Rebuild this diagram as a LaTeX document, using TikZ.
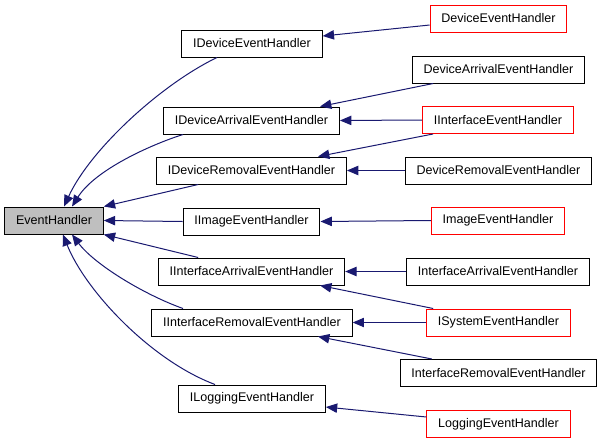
\documentclass[tikz,border=0pt]{standalone}
\usepackage{fontspec}
\setmainfont{Liberation Sans}
\usetikzlibrary{arrows.meta}

\definecolor{edgeblue}{HTML}{191970}
\definecolor{rootgray}{HTML}{BFBFBF}

\begin{document}
\begin{tikzpicture}[
  x=0.75pt, y=-0.75pt,
  cls/.style={draw, line width=0.75pt, inner xsep=8.5pt, inner ysep=0pt, minimum height=20.25pt, font=\fontsize{9.4}{11}\selectfont},
  root/.style={cls, fill=rootgray},
  ext/.style={cls, draw=red},
  inh/.style={-{Triangle[length=8.5pt,width=7pt]}, draw=edgeblue, line width=0.75pt}
]
\useasboundingbox (0,0) rectangle (603,443);

% base class
\node[root] (eh) at (54,220.5) {EventHandler};

% interfaces
\node[cls] (ide)  at (252,43.5)  {IDeviceEventHandler};
\node[cls] (ida)  at (251.5,120.5) {IDeviceArrivalEventHandler};
\node[cls] (idr)  at (251.5,170.5) {IDeviceRemovalEventHandler};
\node[cls] (iim)  at (251.5,221.5) {IImageEventHandler};
\node[cls] (iia)  at (251.5,271.5) {IInterfaceArrivalEventHandler};
\node[cls] (iir)  at (252,322.5) {IInterfaceRemovalEventHandler};
\node[cls] (ilog) at (252,398.5) {ILoggingEventHandler};

% derived classes
\node[ext] (de)   at (498.5,18.5)  {DeviceEventHandler};
\node[cls] (da)   at (498.5,69.5)  {DeviceArrivalEventHandler};
\node[ext] (iif)  at (498,120)     {IInterfaceEventHandler};
\node[cls] (dr)   at (498.5,170.5) {DeviceRemovalEventHandler};
\node[ext] (im)   at (498,220.5)   {ImageEventHandler};
\node[cls] (ia)   at (498,271.5)   {InterfaceArrivalEventHandler};
\node[ext] (isys) at (498.5,322.5) {ISystemEventHandler};
\node[cls] (ir)   at (498.5,373)   {InterfaceRemovalEventHandler};
\node[ext] (log)  at (498.5,424)   {LoggingEventHandler};

% interfaces -> EventHandler
\draw[inh] ([xshift=-26.25pt]ide.south) .. controls (160,85) and (90,150) .. ([xshift=7.5pt]eh.north);
\draw[inh] ([xshift=-51.4pt]ida.south) .. controls (150,145) and (95,170) .. ([xshift=13.5pt]eh.north);
\draw[inh] ([xshift=-40pt]idr.south) -- (eh.north east);
\draw[inh] (iim.west) -- (eh.east);
\draw[inh] ([xshift=-40pt]iia.north) -- (eh.south east);
\draw[inh] ([xshift=-51.75pt]iir.north) .. controls (145,295) and (95,265) .. ([xshift=13.5pt]eh.south);
\draw[inh] ([xshift=-27.75pt]ilog.north) .. controls (150,360) and (85,290) .. ([xshift=6.75pt]eh.south);

% derived -> interfaces
\draw[inh] ([yshift=-4.9pt]de.west) -- ([yshift=5.6pt]ide.east);
\draw[inh] ([xshift=-49pt]da.south) -- ([xshift=51.4pt]ida.north);
\draw[inh] (iif.west) -- (ida.east);
\draw[inh] ([xshift=-48.75pt]iif.south) -- ([xshift=49.9pt]idr.north);
\draw[inh] (dr.west) -- (idr.east);
\draw[inh] (im.west) -- (iim.east);
\draw[inh] (ia.west) -- (iia.east);
\draw[inh] ([xshift=-49pt]isys.north) -- ([xshift=51.4pt]iia.south);
\draw[inh] (isys.west) -- (iir.east);
\draw[inh] ([xshift=-50pt]ir.north) -- ([xshift=49.5pt]iir.south);
\draw[inh] ([yshift=5.25pt]log.west) -- ([yshift=-6.4pt]ilog.east);
\end{tikzpicture}
\end{document}
